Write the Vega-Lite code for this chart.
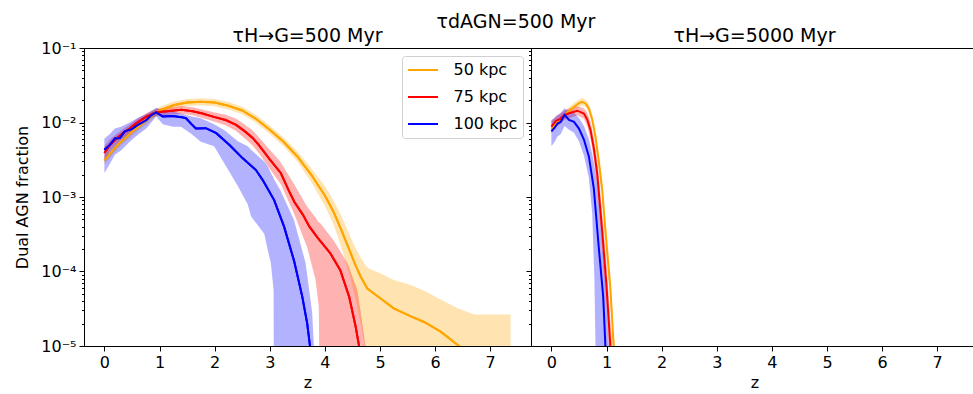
{
"$schema": "https://vega.github.io/schema/vega-lite/v6.json",
"autosize": {"type": "none"},
"padding": {"left": 84, "top": 48, "right": 889, "bottom": 346},
"title": {"text": "τdAGN=500 Myr", "anchor": "middle", "frame": "bounds", "offset": 3, "dx": 20, "dy": 24, "baseline": "alphabetic", "fontSize": 19, "fontWeight": "normal", "font": "DejaVu Sans", "color": "black"},
"bounds": "flush",
"spacing": 0,
"config": {
 "font": "DejaVu Sans",
 "view": {"stroke": "black", "strokeWidth": 1},
 "axis": {"grid": false, "domainColor": "black", "tickColor": "black", "labelColor": "black", "titleColor": "black", "labelFont": "DejaVu Sans", "titleFont": "DejaVu Sans", "labelFontSize": 16, "titleFontSize": 16, "titleFontWeight": "normal", "tickSize": 5, "labelPadding": 3},
 "title": {"font": "DejaVu Sans", "fontSize": 19, "fontWeight": "normal", "color": "black", "offset": 5, "baseline": "alphabetic"}
},
"datasets": {
"lines": [
{"panel":"L","kpc":"50 kpc","z":0,"f":0.0031},{"panel":"L","kpc":"50 kpc","z":0.1,"f":0.0038},{"panel":"L","kpc":"50 kpc","z":0.2,"f":0.0046},{"panel":"L","kpc":"50 kpc","z":0.3,"f":0.0055},{"panel":"L","kpc":"50 kpc","z":0.4,"f":0.0064},{"panel":"L","kpc":"50 kpc","z":0.5,"f":0.0075},{"panel":"L","kpc":"50 kpc","z":0.6,"f":0.0086},{"panel":"L","kpc":"50 kpc","z":0.75,"f":0.0105},{"panel":"L","kpc":"50 kpc","z":0.9,"f":0.013},{"panel":"L","kpc":"50 kpc","z":1.0,"f":0.0145},{"panel":"L","kpc":"50 kpc","z":1.25,"f":0.017},{"panel":"L","kpc":"50 kpc","z":1.5,"f":0.0185},{"panel":"L","kpc":"50 kpc","z":1.75,"f":0.019},{"panel":"L","kpc":"50 kpc","z":2.0,"f":0.0185},{"panel":"L","kpc":"50 kpc","z":2.25,"f":0.0168},{"panel":"L","kpc":"50 kpc","z":2.5,"f":0.0145},{"panel":"L","kpc":"50 kpc","z":2.75,"f":0.0112},{"panel":"L","kpc":"50 kpc","z":3.0,"f":0.008},{"panel":"L","kpc":"50 kpc","z":3.25,"f":0.0055},{"panel":"L","kpc":"50 kpc","z":3.5,"f":0.0035},{"panel":"L","kpc":"50 kpc","z":3.75,"f":0.002},{"panel":"L","kpc":"50 kpc","z":4.0,"f":0.00105},{"panel":"L","kpc":"50 kpc","z":4.15,"f":0.00065},{"panel":"L","kpc":"50 kpc","z":4.3,"f":0.00036},{"panel":"L","kpc":"50 kpc","z":4.45,"f":0.00019},{"panel":"L","kpc":"50 kpc","z":4.55,"f":0.000125},{"panel":"L","kpc":"50 kpc","z":4.65,"f":0.000085},{"panel":"L","kpc":"50 kpc","z":4.77,"f":0.000059},{"panel":"L","kpc":"50 kpc","z":5.0,"f":0.000044},{"panel":"L","kpc":"50 kpc","z":5.25,"f":0.000032},{"panel":"L","kpc":"50 kpc","z":5.56,"f":0.000025},{"panel":"L","kpc":"50 kpc","z":5.8,"f":0.000021},{"panel":"L","kpc":"50 kpc","z":6.1,"f":0.0000156},{"panel":"L","kpc":"50 kpc","z":6.41,"f":0.0000103},{"panel":"L","kpc":"50 kpc","z":6.8,"f":0.000006},{"panel":"L","kpc":"50 kpc","z":7.37,"f":0.000003},
{"panel":"L","kpc":"75 kpc","z":0,"f":0.0039},{"panel":"L","kpc":"75 kpc","z":0.1,"f":0.005},{"panel":"L","kpc":"75 kpc","z":0.22,"f":0.0061},{"panel":"L","kpc":"75 kpc","z":0.34,"f":0.0072},{"panel":"L","kpc":"75 kpc","z":0.46,"f":0.0083},{"panel":"L","kpc":"75 kpc","z":0.58,"f":0.0098},{"panel":"L","kpc":"75 kpc","z":0.76,"f":0.012},{"panel":"L","kpc":"75 kpc","z":0.94,"f":0.0137},{"panel":"L","kpc":"75 kpc","z":1.18,"f":0.0143},{"panel":"L","kpc":"75 kpc","z":1.4,"f":0.0148},{"panel":"L","kpc":"75 kpc","z":1.6,"f":0.0142},{"panel":"L","kpc":"75 kpc","z":1.78,"f":0.0132},{"panel":"L","kpc":"75 kpc","z":2.0,"f":0.0118},{"panel":"L","kpc":"75 kpc","z":2.2,"f":0.0108},{"panel":"L","kpc":"75 kpc","z":2.39,"f":0.0093},{"panel":"L","kpc":"75 kpc","z":2.55,"f":0.0076},{"panel":"L","kpc":"75 kpc","z":2.69,"f":0.0062},{"panel":"L","kpc":"75 kpc","z":2.8,"f":0.005},{"panel":"L","kpc":"75 kpc","z":3.0,"f":0.0032},{"panel":"L","kpc":"75 kpc","z":3.2,"f":0.0021},{"panel":"L","kpc":"75 kpc","z":3.35,"f":0.0012},{"panel":"L","kpc":"75 kpc","z":3.45,"f":0.00085},{"panel":"L","kpc":"75 kpc","z":3.6,"f":0.00058},{"panel":"L","kpc":"75 kpc","z":3.72,"f":0.0004},{"panel":"L","kpc":"75 kpc","z":3.86,"f":0.00029},{"panel":"L","kpc":"75 kpc","z":4.1,"f":0.000175},{"panel":"L","kpc":"75 kpc","z":4.28,"f":0.000104},{"panel":"L","kpc":"75 kpc","z":4.44,"f":0.000046},{"panel":"L","kpc":"75 kpc","z":4.56,"f":0.000018},{"panel":"L","kpc":"75 kpc","z":4.62,"f":0.00001},{"panel":"L","kpc":"75 kpc","z":4.68,"f":0.000005},
{"panel":"L","kpc":"100 kpc","z":0,"f":0.0043},{"panel":"L","kpc":"100 kpc","z":0.1,"f":0.005},{"panel":"L","kpc":"100 kpc","z":0.19,"f":0.0061},{"panel":"L","kpc":"100 kpc","z":0.28,"f":0.0062},{"panel":"L","kpc":"100 kpc","z":0.37,"f":0.0076},{"panel":"L","kpc":"100 kpc","z":0.49,"f":0.0081},{"panel":"L","kpc":"100 kpc","z":0.61,"f":0.0093},{"panel":"L","kpc":"100 kpc","z":0.76,"f":0.0107},{"panel":"L","kpc":"100 kpc","z":0.85,"f":0.0125},{"panel":"L","kpc":"100 kpc","z":0.94,"f":0.0137},{"panel":"L","kpc":"100 kpc","z":1.06,"f":0.012},{"panel":"L","kpc":"100 kpc","z":1.24,"f":0.0122},{"panel":"L","kpc":"100 kpc","z":1.4,"f":0.0118},{"panel":"L","kpc":"100 kpc","z":1.48,"f":0.0114},{"panel":"L","kpc":"100 kpc","z":1.58,"f":0.0095},{"panel":"L","kpc":"100 kpc","z":1.66,"f":0.0083},{"panel":"L","kpc":"100 kpc","z":1.84,"f":0.0084},{"panel":"L","kpc":"100 kpc","z":2.03,"f":0.0072},{"panel":"L","kpc":"100 kpc","z":2.27,"f":0.005},{"panel":"L","kpc":"100 kpc","z":2.51,"f":0.0033},{"panel":"L","kpc":"100 kpc","z":2.75,"f":0.0023},{"panel":"L","kpc":"100 kpc","z":2.87,"f":0.0017},{"panel":"L","kpc":"100 kpc","z":3.08,"f":0.00091},{"panel":"L","kpc":"100 kpc","z":3.26,"f":0.0004},{"panel":"L","kpc":"100 kpc","z":3.44,"f":0.00014},{"panel":"L","kpc":"100 kpc","z":3.59,"f":0.000046},{"panel":"L","kpc":"100 kpc","z":3.68,"f":0.00002},{"panel":"L","kpc":"100 kpc","z":3.73,"f":0.00001},{"panel":"L","kpc":"100 kpc","z":3.77,"f":0.000005},
{"panel":"R","kpc":"50 kpc","z":0,"f":0.008},{"panel":"R","kpc":"50 kpc","z":0.1,"f":0.01},{"panel":"R","kpc":"50 kpc","z":0.2,"f":0.0115},{"panel":"R","kpc":"50 kpc","z":0.3,"f":0.014},{"panel":"R","kpc":"50 kpc","z":0.41,"f":0.0163},{"panel":"R","kpc":"50 kpc","z":0.5,"f":0.0182},{"panel":"R","kpc":"50 kpc","z":0.56,"f":0.019},{"panel":"R","kpc":"50 kpc","z":0.62,"f":0.018},{"panel":"R","kpc":"50 kpc","z":0.68,"f":0.0155},{"panel":"R","kpc":"50 kpc","z":0.74,"f":0.011},{"panel":"R","kpc":"50 kpc","z":0.8,"f":0.0065},{"panel":"R","kpc":"50 kpc","z":0.86,"f":0.003},{"panel":"R","kpc":"50 kpc","z":0.92,"f":0.0013},{"panel":"R","kpc":"50 kpc","z":0.98,"f":0.00036},{"panel":"R","kpc":"50 kpc","z":1.03,"f":0.00013},{"panel":"R","kpc":"50 kpc","z":1.07,"f":0.00006},{"panel":"R","kpc":"50 kpc","z":1.13,"f":0.00001},{"panel":"R","kpc":"50 kpc","z":1.16,"f":0.000005},
{"panel":"R","kpc":"75 kpc","z":0,"f":0.0088},{"panel":"R","kpc":"75 kpc","z":0.08,"f":0.0105},{"panel":"R","kpc":"75 kpc","z":0.15,"f":0.011},{"panel":"R","kpc":"75 kpc","z":0.23,"f":0.0126},{"panel":"R","kpc":"75 kpc","z":0.35,"f":0.0135},{"panel":"R","kpc":"75 kpc","z":0.47,"f":0.0144},{"panel":"R","kpc":"75 kpc","z":0.59,"f":0.0132},{"panel":"R","kpc":"75 kpc","z":0.65,"f":0.011},{"panel":"R","kpc":"75 kpc","z":0.71,"f":0.0079},{"panel":"R","kpc":"75 kpc","z":0.77,"f":0.0045},{"panel":"R","kpc":"75 kpc","z":0.83,"f":0.0021},{"panel":"R","kpc":"75 kpc","z":0.92,"f":0.00036},{"panel":"R","kpc":"75 kpc","z":1.0,"f":0.000063},{"panel":"R","kpc":"75 kpc","z":1.07,"f":0.00001},{"panel":"R","kpc":"75 kpc","z":1.1,"f":0.000005},
{"panel":"R","kpc":"100 kpc","z":0,"f":0.0076},{"panel":"R","kpc":"100 kpc","z":0.06,"f":0.0085},{"panel":"R","kpc":"100 kpc","z":0.11,"f":0.0097},{"panel":"R","kpc":"100 kpc","z":0.17,"f":0.0102},{"panel":"R","kpc":"100 kpc","z":0.24,"f":0.0126},{"panel":"R","kpc":"100 kpc","z":0.32,"f":0.0108},{"panel":"R","kpc":"100 kpc","z":0.41,"f":0.0102},{"panel":"R","kpc":"100 kpc","z":0.5,"f":0.0083},{"panel":"R","kpc":"100 kpc","z":0.59,"f":0.0059},{"panel":"R","kpc":"100 kpc","z":0.68,"f":0.0035},{"panel":"R","kpc":"100 kpc","z":0.77,"f":0.0013},{"panel":"R","kpc":"100 kpc","z":0.86,"f":0.00021},{"panel":"R","kpc":"100 kpc","z":0.94,"f":0.000046},{"panel":"R","kpc":"100 kpc","z":0.98,"f":0.00001},{"panel":"R","kpc":"100 kpc","z":1.0,"f":0.000005}
],
"bands": [
{"panel":"L","kpc":"50 kpc","z":0,"hi":0.0035,"lo":0.00275},{"panel":"L","kpc":"50 kpc","z":0.1,"hi":0.0043,"lo":0.00335},{"panel":"L","kpc":"50 kpc","z":0.2,"hi":0.0052,"lo":0.0041},{"panel":"L","kpc":"50 kpc","z":0.3,"hi":0.0062,"lo":0.0049},{"panel":"L","kpc":"50 kpc","z":0.4,"hi":0.0072,"lo":0.0057},{"panel":"L","kpc":"50 kpc","z":0.5,"hi":0.0085,"lo":0.0066},{"panel":"L","kpc":"50 kpc","z":0.6,"hi":0.0097,"lo":0.0076},{"panel":"L","kpc":"50 kpc","z":0.75,"hi":0.0119,"lo":0.0093},{"panel":"L","kpc":"50 kpc","z":0.9,"hi":0.0147,"lo":0.0115},{"panel":"L","kpc":"50 kpc","z":1.0,"hi":0.0162,"lo":0.013},{"panel":"L","kpc":"50 kpc","z":1.25,"hi":0.019,"lo":0.0152},{"panel":"L","kpc":"50 kpc","z":1.5,"hi":0.0206,"lo":0.0166},{"panel":"L","kpc":"50 kpc","z":1.75,"hi":0.0212,"lo":0.017},{"panel":"L","kpc":"50 kpc","z":2.0,"hi":0.0207,"lo":0.0165},{"panel":"L","kpc":"50 kpc","z":2.25,"hi":0.0188,"lo":0.015},{"panel":"L","kpc":"50 kpc","z":2.5,"hi":0.0163,"lo":0.0129},{"panel":"L","kpc":"50 kpc","z":2.75,"hi":0.0127,"lo":0.0099},{"panel":"L","kpc":"50 kpc","z":3.0,"hi":0.0091,"lo":0.007},{"panel":"L","kpc":"50 kpc","z":3.25,"hi":0.0063,"lo":0.0048},{"panel":"L","kpc":"50 kpc","z":3.5,"hi":0.0041,"lo":0.003},{"panel":"L","kpc":"50 kpc","z":3.75,"hi":0.00245,"lo":0.0016},{"panel":"L","kpc":"50 kpc","z":4.0,"hi":0.0014,"lo":0.00076},{"panel":"L","kpc":"50 kpc","z":4.15,"hi":0.00092,"lo":0.00044},{"panel":"L","kpc":"50 kpc","z":4.3,"hi":0.00056,"lo":0.00021},{"panel":"L","kpc":"50 kpc","z":4.45,"hi":0.00031,"lo":0.00009},{"panel":"L","kpc":"50 kpc","z":4.55,"hi":0.00021,"lo":0.000045},{"panel":"L","kpc":"50 kpc","z":4.65,"hi":0.000155,"lo":0.00002},{"panel":"L","kpc":"50 kpc","z":4.74,"hi":0.00012,"lo":0.000009},{"panel":"L","kpc":"50 kpc","z":4.8,"hi":0.00011,"lo":0.000001},{"panel":"L","kpc":"50 kpc","z":5.0,"hi":0.000095,"lo":0.000001},{"panel":"L","kpc":"50 kpc","z":5.25,"hi":0.000077,"lo":0.000001},{"panel":"L","kpc":"50 kpc","z":5.56,"hi":0.000066,"lo":0.000001},{"panel":"L","kpc":"50 kpc","z":5.8,"hi":0.000055,"lo":0.000001},{"panel":"L","kpc":"50 kpc","z":6.1,"hi":0.000042,"lo":0.000001},{"panel":"L","kpc":"50 kpc","z":6.41,"hi":0.000032,"lo":0.000001},{"panel":"L","kpc":"50 kpc","z":6.71,"hi":0.0000265,"lo":0.000001},{"panel":"L","kpc":"50 kpc","z":7.37,"hi":0.0000265,"lo":0.000001},
{"panel":"L","kpc":"75 kpc","z":0,"hi":0.0048,"lo":0.003},{"panel":"L","kpc":"75 kpc","z":0.1,"hi":0.0059,"lo":0.0042},{"panel":"L","kpc":"75 kpc","z":0.22,"hi":0.007,"lo":0.0052},{"panel":"L","kpc":"75 kpc","z":0.34,"hi":0.0082,"lo":0.0062},{"panel":"L","kpc":"75 kpc","z":0.46,"hi":0.0094,"lo":0.0072},{"panel":"L","kpc":"75 kpc","z":0.58,"hi":0.011,"lo":0.0086},{"panel":"L","kpc":"75 kpc","z":0.76,"hi":0.0133,"lo":0.0107},{"panel":"L","kpc":"75 kpc","z":0.94,"hi":0.0152,"lo":0.0122},{"panel":"L","kpc":"75 kpc","z":1.18,"hi":0.016,"lo":0.0127},{"panel":"L","kpc":"75 kpc","z":1.4,"hi":0.0166,"lo":0.0131},{"panel":"L","kpc":"75 kpc","z":1.6,"hi":0.016,"lo":0.0125},{"panel":"L","kpc":"75 kpc","z":1.78,"hi":0.015,"lo":0.0115},{"panel":"L","kpc":"75 kpc","z":2.0,"hi":0.0136,"lo":0.0102},{"panel":"L","kpc":"75 kpc","z":2.2,"hi":0.0127,"lo":0.0092},{"panel":"L","kpc":"75 kpc","z":2.39,"hi":0.0112,"lo":0.0077},{"panel":"L","kpc":"75 kpc","z":2.55,"hi":0.0093,"lo":0.0061},{"panel":"L","kpc":"75 kpc","z":2.69,"hi":0.0078,"lo":0.0049},{"panel":"L","kpc":"75 kpc","z":2.8,"hi":0.0064,"lo":0.0039},{"panel":"L","kpc":"75 kpc","z":3.0,"hi":0.0043,"lo":0.0024},{"panel":"L","kpc":"75 kpc","z":3.14,"hi":0.0033,"lo":0.0017},{"panel":"L","kpc":"75 kpc","z":3.2,"hi":0.0029,"lo":0.0015},{"panel":"L","kpc":"75 kpc","z":3.44,"hi":0.0015,"lo":0.0006},{"panel":"L","kpc":"75 kpc","z":3.68,"hi":0.00074,"lo":0.00021},{"panel":"L","kpc":"75 kpc","z":3.83,"hi":0.00053,"lo":0.000078},{"panel":"L","kpc":"75 kpc","z":3.89,"hi":0.00046,"lo":0.000034},{"panel":"L","kpc":"75 kpc","z":3.91,"hi":0.00045,"lo":0.000001},{"panel":"L","kpc":"75 kpc","z":4.16,"hi":0.00026,"lo":0.000001},{"panel":"L","kpc":"75 kpc","z":4.41,"hi":0.00013,"lo":0.000001},{"panel":"L","kpc":"75 kpc","z":4.59,"hi":0.000056,"lo":0.000001},{"panel":"L","kpc":"75 kpc","z":4.74,"hi":0.00001,"lo":0.000001},{"panel":"L","kpc":"75 kpc","z":4.78,"hi":0.000001,"lo":0.000001},
{"panel":"L","kpc":"100 kpc","z":0,"hi":0.0061,"lo":0.0021},{"panel":"L","kpc":"100 kpc","z":0.1,"hi":0.007,"lo":0.0028},{"panel":"L","kpc":"100 kpc","z":0.19,"hi":0.0083,"lo":0.0037},{"panel":"L","kpc":"100 kpc","z":0.3,"hi":0.0088,"lo":0.0042},{"panel":"L","kpc":"100 kpc","z":0.46,"hi":0.01,"lo":0.0055},{"panel":"L","kpc":"100 kpc","z":0.6,"hi":0.0115,"lo":0.0068},{"panel":"L","kpc":"100 kpc","z":0.76,"hi":0.013,"lo":0.0083},{"panel":"L","kpc":"100 kpc","z":0.94,"hi":0.0158,"lo":0.012},{"panel":"L","kpc":"100 kpc","z":1.06,"hi":0.0145,"lo":0.0095},{"panel":"L","kpc":"100 kpc","z":1.24,"hi":0.014,"lo":0.0088},{"panel":"L","kpc":"100 kpc","z":1.39,"hi":0.0132,"lo":0.0088},{"panel":"L","kpc":"100 kpc","z":1.58,"hi":0.012,"lo":0.007},{"panel":"L","kpc":"100 kpc","z":1.75,"hi":0.0114,"lo":0.0055},{"panel":"L","kpc":"100 kpc","z":1.99,"hi":0.0095,"lo":0.0048},{"panel":"L","kpc":"100 kpc","z":2.18,"hi":0.0079,"lo":0.0028},{"panel":"L","kpc":"100 kpc","z":2.42,"hi":0.0056,"lo":0.0014},{"panel":"L","kpc":"100 kpc","z":2.6,"hi":0.0048,"lo":0.0008},{"panel":"L","kpc":"100 kpc","z":2.66,"hi":0.0043,"lo":0.00055},{"panel":"L","kpc":"100 kpc","z":2.9,"hi":0.003,"lo":0.00032},{"panel":"L","kpc":"100 kpc","z":2.96,"hi":0.0026,"lo":0.0002},{"panel":"L","kpc":"100 kpc","z":3.02,"hi":0.0021,"lo":0.00013},{"panel":"L","kpc":"100 kpc","z":3.07,"hi":0.0018,"lo":0.000056},{"panel":"L","kpc":"100 kpc","z":3.075,"hi":0.00175,"lo":0.000001},{"panel":"L","kpc":"100 kpc","z":3.2,"hi":0.0012,"lo":0.000001},{"panel":"L","kpc":"100 kpc","z":3.44,"hi":0.00049,"lo":0.000001},{"panel":"L","kpc":"100 kpc","z":3.65,"hi":0.00013,"lo":0.000001},{"panel":"L","kpc":"100 kpc","z":3.77,"hi":0.000028,"lo":0.000001},{"panel":"L","kpc":"100 kpc","z":3.8,"hi":0.00001,"lo":0.000001},{"panel":"L","kpc":"100 kpc","z":3.82,"hi":0.000001,"lo":0.000001},
{"panel":"R","kpc":"50 kpc","z":0,"hi":0.009,"lo":0.0071},{"panel":"R","kpc":"50 kpc","z":0.1,"hi":0.0112,"lo":0.0089},{"panel":"R","kpc":"50 kpc","z":0.2,"hi":0.0129,"lo":0.0103},{"panel":"R","kpc":"50 kpc","z":0.3,"hi":0.0157,"lo":0.0125},{"panel":"R","kpc":"50 kpc","z":0.41,"hi":0.0183,"lo":0.0145},{"panel":"R","kpc":"50 kpc","z":0.5,"hi":0.0204,"lo":0.0162},{"panel":"R","kpc":"50 kpc","z":0.56,"hi":0.0213,"lo":0.017},{"panel":"R","kpc":"50 kpc","z":0.62,"hi":0.0202,"lo":0.016},{"panel":"R","kpc":"50 kpc","z":0.68,"hi":0.0178,"lo":0.0135},{"panel":"R","kpc":"50 kpc","z":0.74,"hi":0.013,"lo":0.0094},{"panel":"R","kpc":"50 kpc","z":0.8,"hi":0.008,"lo":0.0052},{"panel":"R","kpc":"50 kpc","z":0.86,"hi":0.0038,"lo":0.0023},{"panel":"R","kpc":"50 kpc","z":0.92,"hi":0.0017,"lo":0.00095},{"panel":"R","kpc":"50 kpc","z":0.98,"hi":0.0005,"lo":0.00025},{"panel":"R","kpc":"50 kpc","z":1.03,"hi":0.00019,"lo":0.000085},{"panel":"R","kpc":"50 kpc","z":1.07,"hi":0.00009,"lo":0.000038},{"panel":"R","kpc":"50 kpc","z":1.13,"hi":0.000017,"lo":0.0000055},{"panel":"R","kpc":"50 kpc","z":1.16,"hi":0.000009,"lo":0.0000025},
{"panel":"R","kpc":"75 kpc","z":0,"hi":0.0105,"lo":0.0073},{"panel":"R","kpc":"75 kpc","z":0.08,"hi":0.0122,"lo":0.0088},{"panel":"R","kpc":"75 kpc","z":0.15,"hi":0.013,"lo":0.0093},{"panel":"R","kpc":"75 kpc","z":0.23,"hi":0.0145,"lo":0.0108},{"panel":"R","kpc":"75 kpc","z":0.35,"hi":0.0156,"lo":0.0116},{"panel":"R","kpc":"75 kpc","z":0.47,"hi":0.0165,"lo":0.0125},{"panel":"R","kpc":"75 kpc","z":0.59,"hi":0.0155,"lo":0.0112},{"panel":"R","kpc":"75 kpc","z":0.65,"hi":0.0135,"lo":0.009},{"panel":"R","kpc":"75 kpc","z":0.71,"hi":0.0102,"lo":0.006},{"panel":"R","kpc":"75 kpc","z":0.77,"hi":0.0062,"lo":0.0032},{"panel":"R","kpc":"75 kpc","z":0.83,"hi":0.0032,"lo":0.0013},{"panel":"R","kpc":"75 kpc","z":0.92,"hi":0.00065,"lo":0.0002},{"panel":"R","kpc":"75 kpc","z":1.0,"hi":0.00013,"lo":0.00003},{"panel":"R","kpc":"75 kpc","z":1.07,"hi":0.000022,"lo":0.000004},{"panel":"R","kpc":"75 kpc","z":1.1,"hi":0.000012,"lo":0.000002},
{"panel":"R","kpc":"100 kpc","z":0,"hi":0.0108,"lo":0.0048},{"panel":"R","kpc":"100 kpc","z":0.06,"hi":0.0115,"lo":0.0055},{"panel":"R","kpc":"100 kpc","z":0.11,"hi":0.0125,"lo":0.0065},{"panel":"R","kpc":"100 kpc","z":0.17,"hi":0.0135,"lo":0.007},{"panel":"R","kpc":"100 kpc","z":0.24,"hi":0.0155,"lo":0.009},{"panel":"R","kpc":"100 kpc","z":0.32,"hi":0.014,"lo":0.008},{"panel":"R","kpc":"100 kpc","z":0.41,"hi":0.0135,"lo":0.0073},{"panel":"R","kpc":"100 kpc","z":0.5,"hi":0.0115,"lo":0.0056},{"panel":"R","kpc":"100 kpc","z":0.59,"hi":0.009,"lo":0.0036},{"panel":"R","kpc":"100 kpc","z":0.68,"hi":0.006,"lo":0.0018},{"panel":"R","kpc":"100 kpc","z":0.74,"hi":0.0038,"lo":0.0006},{"panel":"R","kpc":"100 kpc","z":0.78,"hi":0.0026,"lo":0.00008},{"panel":"R","kpc":"100 kpc","z":0.8,"hi":0.0021,"lo":0.00001},{"panel":"R","kpc":"100 kpc","z":0.82,"hi":0.0016,"lo":0.000001},{"panel":"R","kpc":"100 kpc","z":0.86,"hi":0.0008,"lo":0.000001},{"panel":"R","kpc":"100 kpc","z":0.94,"hi":0.00016,"lo":0.000001},{"panel":"R","kpc":"100 kpc","z":0.98,"hi":0.00006,"lo":0.000001},{"panel":"R","kpc":"100 kpc","z":1.04,"hi":0.00001,"lo":0.000001},{"panel":"R","kpc":"100 kpc","z":1.06,"hi":0.000001,"lo":0.000001}
]
},
"resolve": {"legend": {"color": "independent"}},
"hconcat": [
{
 "width": 447, "height": 298,
 "title": {"text": "τH→G=500 Myr", "dy": 11},
 "layer": [
  {
   "data": {"name": "lines"},
   "transform": [{"filter": "datum.panel == 'L'"}],
   "mark": {"type": "line", "strokeWidth": 2, "clip": true},
   "encoding": {
    "x": {"field": "z", "type": "quantitative", "scale": {"domain": [-0.37, 7.74], "nice": false, "zero": false},
          "axis": {"values": [0,1,2,3,4,5,6,7], "format": "d", "title": "z", "titlePadding": 4}},
    "y": {"field": "f", "type": "quantitative", "scale": {"type": "log", "domain": [0.00001, 0.1], "nice": false},
          "axis": {"title": "Dual AGN fraction", "minExtent": 45, "maxExtent": 45, "titlePadding": 9,
                   "values": [0.1,0.09,0.08,0.07,0.06,0.05,0.04,0.03,0.02,0.01,0.009,0.008,0.007,0.006,0.005,0.004,0.003,0.002,0.001,0.0009,0.0008,0.0007,0.0006,0.0005,0.0004,0.0003,0.0002,0.0001,0.00009,0.00008,0.00007,0.00006,0.00005,0.00004,0.00003,0.00002,0.00001],
                   "labelExpr": "abs(log(datum.value)/LN10 - round(log(datum.value)/LN10)) < 0.001 ? '10⁻' + ['','¹','²','³','⁴','⁵'][-round(log(datum.value)/LN10)] : ''",
                   "tickSize": {"condition": {"test": "abs(log(datum.value)/LN10 - round(log(datum.value)/LN10)) < 0.001", "value": 5}, "value": 2.5}}},
    "color": {"field": "kpc", "type": "nominal", "scale": {"domain": ["50 kpc", "75 kpc", "100 kpc"], "range": ["#FFA500", "#FF0000", "#0000FF"]},
      "legend": {"title": null, "orient": "top-right", "offset": 8, "padding": 5.5, "fillColor": "white", "strokeColor": "#d0d0d0", "cornerRadius": 3,
                 "symbolType": "M-2,0H2", "symbolSize": 225, "symbolStrokeWidth": 2, "symbolOffset": 7, "rowPadding": 10, "labelOffset": 22,
                 "labelFontSize": 16, "labelFont": "DejaVu Sans", "labelColor": "black"}}
   }
  },
  {
   "data": {"name": "bands"},
   "transform": [{"filter": "datum.panel == 'L'"}],
   "mark": {"type": "area", "opacity": 0.3, "clip": true},
   "encoding": {
    "x": {"field": "z", "type": "quantitative"},
    "y": {"field": "hi", "type": "quantitative"},
    "y2": {"field": "lo"},
    "color": {"field": "kpc", "type": "nominal", "legend": null}
   }
  },
  {
   "data": {"name": "lines"},
   "transform": [{"filter": "datum.panel == 'L'"}],
   "mark": {"type": "line", "strokeWidth": 2, "clip": true},
   "encoding": {
    "x": {"field": "z", "type": "quantitative"},
    "y": {"field": "f", "type": "quantitative"},
    "color": {"field": "kpc", "type": "nominal", "legend": null}
   }
  }
 ]
},
{
 "width": 447, "height": 298,
 "title": {"text": "τH→G=5000 Myr", "dy": 3},
 "layer": [
  {
   "data": {"name": "bands"},
   "transform": [{"filter": "datum.panel == 'R'"}],
   "mark": {"type": "area", "opacity": 0.3, "clip": true},
   "encoding": {
    "x": {"field": "z", "type": "quantitative", "scale": {"domain": [-0.37, 7.74], "nice": false, "zero": false},
          "axis": {"values": [0,1,2,3,4,5,6,7], "format": "d", "title": "z", "titlePadding": 4}},
    "y": {"field": "hi", "type": "quantitative", "scale": {"type": "log", "domain": [0.00001, 0.1], "nice": false},
          "axis": {"title": null, "labels": false,
                   "values": [0.1,0.09,0.08,0.07,0.06,0.05,0.04,0.03,0.02,0.01,0.009,0.008,0.007,0.006,0.005,0.004,0.003,0.002,0.001,0.0009,0.0008,0.0007,0.0006,0.0005,0.0004,0.0003,0.0002,0.0001,0.00009,0.00008,0.00007,0.00006,0.00005,0.00004,0.00003,0.00002,0.00001],
                   "tickSize": {"condition": {"test": "abs(log(datum.value)/LN10 - round(log(datum.value)/LN10)) < 0.001", "value": 5}, "value": 2.5}}},
    "y2": {"field": "lo"},
    "color": {"field": "kpc", "type": "nominal", "legend": null}
   }
  },
  {
   "data": {"name": "lines"},
   "transform": [{"filter": "datum.panel == 'R'"}],
   "mark": {"type": "line", "strokeWidth": 2, "clip": true},
   "encoding": {
    "x": {"field": "z", "type": "quantitative"},
    "y": {"field": "f", "type": "quantitative"},
    "color": {"field": "kpc", "type": "nominal", "legend": null}
   }
  }
 ]
}
]
}
